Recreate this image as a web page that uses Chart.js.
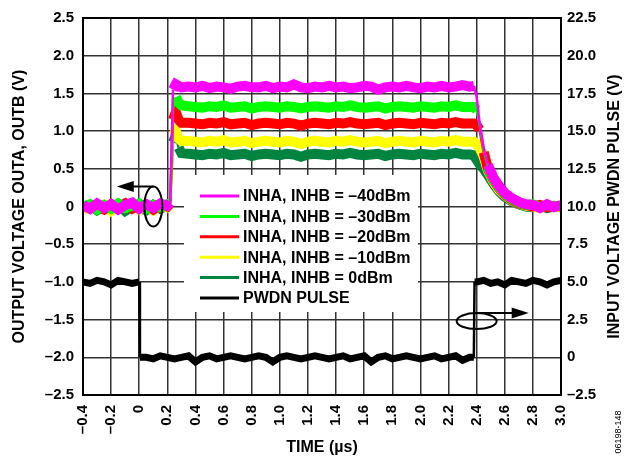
<!DOCTYPE html>
<html>
<head>
<meta charset="utf-8">
<script src="https://cdn.jsdelivr.net/npm/chart.js@4.4.0/dist/chart.umd.min.js"></script>
<style>
  html, body { margin: 0; padding: 0; background: #fff; }
</style>
</head>
<body>
<canvas id="chart" width="635" height="461"></canvas>
<script>
// thoi gian (us) cho cac duong OUTA/OUTB
const tOut = [
  -0.4, -0.35, -0.3, -0.25, -0.2, -0.15, -0.1, -0.05, 0, 0.05, 0.1, 0.15, 0.2,
  0.22, 0.24, 0.26, 0.28, 0.3,
  0.35, 0.4, 0.45, 0.5, 0.55, 0.6, 0.65, 0.7, 0.75, 0.8,
  0.85, 0.9, 0.95, 1.0, 1.05, 1.1, 1.15, 1.2, 1.25, 1.3,
  1.35, 1.4, 1.45, 1.5, 1.55, 1.6, 1.65, 1.7, 1.75, 1.8,
  1.85, 1.9, 1.95, 2.0, 2.05, 2.1, 2.15, 2.2, 2.25, 2.3,
  2.35,
  2.38, 2.4, 2.42, 2.45, 2.48, 2.52, 2.56, 2.6, 2.65, 2.7, 2.75, 2.8, 2.85, 2.9, 2.95, 3.0
];

const out40 = [
  0.02, -0.03, 0.04, -0.02, 0.03, -0.04, 0.02, 0.05, -0.03, 0.03, -0.02, 0.04, 0.01,
  0.05, 1.55, 1.62, 1.60, 1.58,
  1.59, 1.58, 1.60, 1.57, 1.59, 1.58, 1.56, 1.59, 1.60, 1.58,
  1.58, 1.60, 1.57, 1.59, 1.58, 1.62, 1.58, 1.57, 1.59, 1.58,
  1.60, 1.58, 1.59, 1.57, 1.58, 1.60, 1.59, 1.55, 1.58, 1.59,
  1.58, 1.60, 1.58, 1.57, 1.59, 1.58, 1.60, 1.58, 1.59, 1.61,
  1.59,
  1.60, 1.45, 1.12, 0.78, 0.55, 0.38, 0.27, 0.18, 0.11, 0.06, 0.03, 0.02, -0.02, 0.03, -0.01, 0.02
];
const out30 = [
  0.00, 0.03, -0.04, 0.02, -0.03, 0.04, -0.02, 0.01, 0.04, -0.03, 0.02, -0.01, 0.03,
  0.04, 1.30, 1.45, 1.38, 1.34,
  1.33, 1.32, 1.31, 1.33, 1.32, 1.34, 1.31, 1.32, 1.33, 1.30,
  1.32, 1.33, 1.32, 1.31, 1.33, 1.32, 1.30, 1.32, 1.33, 1.32,
  1.31, 1.33, 1.32, 1.34, 1.32, 1.31, 1.32, 1.33, 1.30, 1.32,
  1.33, 1.32, 1.31, 1.33, 1.32, 1.31, 1.33, 1.32, 1.34, 1.32,
  1.32,
  1.32, 1.28, 1.10, 0.75, 0.52, 0.36, 0.25, 0.17, 0.10, 0.05, 0.02, 0.03, -0.01, 0.02, 0.00, 0.01
];
const out20 = [
  -0.02, 0.02, 0.00, -0.04, 0.03, -0.01, 0.04, -0.03, 0.01, 0.02, -0.04, 0.02, 0.00,
  0.04, 1.15, 1.25, 1.15, 1.11,
  1.11, 1.10, 1.09, 1.11, 1.10, 1.12, 1.09, 1.10, 1.11, 1.08,
  1.10, 1.11, 1.10, 1.09, 1.11, 1.10, 1.07, 1.10, 1.11, 1.10,
  1.09, 1.11, 1.10, 1.12, 1.10, 1.09, 1.10, 1.11, 1.08, 1.10,
  1.11, 1.10, 1.09, 1.11, 1.10, 1.09, 1.11, 1.10, 1.12, 1.10,
  1.10,
  1.10, 1.08, 1.02, 0.72, 0.50, 0.35, 0.24, 0.16, 0.09, 0.04, 0.02, 0.00, 0.02, -0.01, 0.01, 0.00
];
const out10 = [
  -0.05, 0.01, -0.03, 0.02, -0.06, 0.00, -0.02, 0.03, -0.04, 0.01, -0.05, 0.02, -0.01,
  0.03, 0.95, 1.00, 0.90, 0.87,
  0.87, 0.86, 0.85, 0.87, 0.86, 0.88, 0.85, 0.86, 0.87, 0.84,
  0.86, 0.87, 0.86, 0.85, 0.87, 0.86, 0.83, 0.86, 0.87, 0.86,
  0.85, 0.87, 0.86, 0.88, 0.86, 0.85, 0.86, 0.87, 0.84, 0.86,
  0.87, 0.86, 0.85, 0.87, 0.86, 0.85, 0.87, 0.86, 0.88, 0.86,
  0.86,
  0.86, 0.82, 0.78, 0.66, 0.48, 0.33, 0.22, 0.15, 0.08, 0.04, 0.01, 0.00, -0.02, 0.01, 0.00, -0.01
];
const out0 = [
  -0.04, 0.02, -0.05, 0.01, -0.03, 0.03, -0.06, 0.00, -0.02, -0.05, 0.02, -0.03, 0.01,
  0.03, 0.85, 0.94, 0.78, 0.71,
  0.70, 0.69, 0.68, 0.70, 0.69, 0.71, 0.68, 0.69, 0.70, 0.67,
  0.69, 0.70, 0.69, 0.68, 0.70, 0.69, 0.66, 0.69, 0.70, 0.69,
  0.68, 0.70, 0.69, 0.71, 0.69, 0.68, 0.69, 0.70, 0.67, 0.69,
  0.70, 0.69, 0.68, 0.70, 0.69, 0.68, 0.70, 0.69, 0.71, 0.69,
  0.69,
  0.68, 0.62, 0.56, 0.50, 0.42, 0.30, 0.20, 0.13, 0.07, 0.03, 0.00, -0.01, 0.01, -0.02, 0.00, -0.01
];

// xung PWDN (truc phai)
const tPwdn = [
  -0.4, -0.35, -0.3, -0.25, -0.2, -0.15, -0.1, -0.05,
  0, 0.005,
  0.05, 0.1, 0.15, 0.2, 0.25, 0.3, 0.35, 0.4, 0.45, 0.5,
  0.55, 0.6, 0.65, 0.7, 0.75, 0.8, 0.85, 0.9, 0.95, 1.0,
  1.05, 1.1, 1.15, 1.2, 1.25, 1.3, 1.35, 1.4, 1.45, 1.5,
  1.55, 1.6, 1.65, 1.7, 1.75, 1.8, 1.85, 1.9, 1.95, 2.0,
  2.05, 2.1, 2.15, 2.2, 2.25, 2.3, 2.35,
  2.38, 2.385,
  2.4, 2.45, 2.5, 2.55, 2.6, 2.65, 2.7, 2.75, 2.8, 2.85, 2.9, 2.95, 3.0
];
const pwdn = [
  5.0, 4.9, 5.1, 5.0, 4.8, 5.1, 5.0, 4.9,
  5.0, 0.0,
  0.0, -0.1, 0.1, 0.0, -0.1, 0.0, 0.1, -0.3, 0.0, 0.1,
  -0.1, 0.0, 0.1, 0.0, -0.1, 0.0, 0.1, 0.0, -0.3, 0.0,
  0.1, 0.0, -0.1, 0.0, 0.1, 0.0, -0.1, 0.0, 0.1, -0.1,
  0.0, 0.1, -0.3, 0.0, 0.1, -0.1, 0.0, 0.1, 0.0, -0.1,
  0.0, 0.1, -0.1, 0.0, 0.1, -0.2, 0.0,
  0.0, 5.0,
  5.0, 5.1, 4.9, 5.0, 4.8, 5.1, 5.0, 4.9, 5.1, 5.0, 4.8, 5.0, 5.1
];

const seriesLabels = ['INHA, INHB = \u201340dBm', 'INHA, INHB = \u201330dBm', 'INHA, INHB = \u201320dBm',
                      'INHA, INHB = \u201310dBm', 'INHA, INHB = 0dBm', 'PWDN PULSE'];
const seriesColors = ['#FF00FF', '#00FF00', '#FF0000', '#FFFF00', '#00843F', '#000000'];

const FONT = '"Liberation Sans", Arial, sans-serif';

function fmt(v, digits) {
    const r = Math.round(v * 100) / 100;
    if (r === 0) return '0';
    const s = Math.abs(r).toFixed(digits);
    return r < 0 ? '\u2013' + s : s;
}

function pts(xs, ys) {
    return xs.map((x, i) => ({ x: x, y: ys[i] }));
}

// net mong o canh dung
function steepWidth(base) {
    return ctx => {
        const dx = Math.abs(ctx.p1.x - ctx.p0.x);
        const dy = Math.abs(ctx.p1.y - ctx.p0.y);
        return dy > dx * 4 ? 2.5 : base;
    };
}

function outDataset(i, values) {
    return {
        label: seriesLabels[i],
        data: pts(tOut, values),
        borderColor: seriesColors[i],
        borderWidth: 10,
        segment: { borderWidth: steepWidth(10) },
        pointRadius: 0,
        yAxisID: 'y'
    };
}

// ve chu thich, vien, mui ten
const extras = {
    id: 'extras',
    beforeDatasetsDraw(chart) {
        const c = chart.ctx;
        c.save();
        c.fillStyle = '#fff';
        c.fillRect(184, 175, 234, 137);
        c.restore();
    },
    afterDraw(chart) {
        const c = chart.ctx;
        const a = chart.chartArea;
        const xs = chart.scales.x, ys = chart.scales.y, y1 = chart.scales.y1;
        c.save();
        c.strokeStyle = '#000';
        c.lineWidth = 2;
        c.strokeRect(a.left, a.top, a.right - a.left, a.bottom - a.top);

        // legend
        chart.data.datasets.forEach((ds, i) => {
            const y = 196 + i * 20.4;
            c.strokeStyle = ds.borderColor;
            c.lineWidth = 3;
            c.beginPath();
            c.moveTo(200, y);
            c.lineTo(239, y);
            c.stroke();
            c.fillStyle = '#000';
            c.font = 'bold 16px ' + FONT;
            c.textBaseline = 'middle';
            c.textAlign = 'left';
            c.fillText(ds.label, 243, y + 1);
        });

        // ellipse + arrow
        function marker(cx, cy, rx, ry, tipX) {
            c.strokeStyle = '#000';
            c.fillStyle = '#000';
            c.lineWidth = 2;
            c.beginPath();
            c.ellipse(cx, cy, rx, ry, 0, 0, Math.PI * 2);
            c.stroke();
            const ly = cy - ry;
            const dir = tipX < cx ? -1 : 1;
            c.beginPath();
            c.moveTo(cx, ly);
            c.lineTo(tipX - dir * 16, ly);
            c.stroke();
            c.beginPath();
            c.moveTo(tipX, ly);
            c.lineTo(tipX - dir * 17, ly - 5.5);
            c.lineTo(tipX - dir * 17, ly + 5.5);
            c.closePath();
            c.fill();
        }
        marker(xs.getPixelForValue(0.1), ys.getPixelForValue(0), 9, 20, xs.getPixelForValue(-0.16));
        marker(xs.getPixelForValue(2.4), y1.getPixelForValue(2.4), 20, 8, xs.getPixelForValue(2.77));

        // tieu de truc phai (doc tu duoi len)
        c.save();
        c.translate(615, (a.top + a.bottom) / 2);
        c.rotate(-Math.PI / 2);
        c.font = 'bold 16px ' + FONT;
        c.fillStyle = '#000';
        c.textAlign = 'center';
        c.textBaseline = 'middle';
        c.fillText('INPUT VOLTAGE PWDN PULSE (V)', 0, 0);
        c.restore();

        // ma hinh
        c.translate(619, 432);
        c.rotate(-Math.PI / 2);
        c.font = '9px ' + FONT;
        c.fillStyle = '#000';
        c.textAlign = 'center';
        c.textBaseline = 'middle';
        c.fillText('06198-148', 0, 0);
        c.restore();
    }
};

const tickFont = { family: FONT, size: 15, weight: 'bold' };
const titleFont = { family: FONT, size: 16, weight: 'bold' };
const gridStyle = { color: '#333', lineWidth: 1.5, drawTicks: false };

new Chart(document.getElementById('chart'), {
    type: 'line',
    data: {
        datasets: [
            outDataset(0, out40),
            outDataset(1, out30),
            outDataset(2, out20),
            outDataset(3, out10),
            outDataset(4, out0),
            {
                label: seriesLabels[5],
                data: pts(tPwdn, pwdn),
                borderColor: seriesColors[5],
                borderWidth: 7,
                segment: { borderWidth: steepWidth(7) },
                pointRadius: 0,
                yAxisID: 'y1'
            }
        ]
    },
    options: {
        responsive: false,
        animation: false,
        layout: { padding: { top: 13 } },
        plugins: {
            legend: { display: false },
            tooltip: { enabled: false }
        },
        scales: {
            x: {
                type: 'linear',
                min: -0.4,
                max: 3.0,
                grid: gridStyle,
                border: { color: '#000', width: 2 },
                ticks: {
                    stepSize: 0.2,
                    autoSkip: false,
                    minRotation: 90,
                    maxRotation: 90,
                    padding: 10,
                    color: '#000',
                    font: tickFont,
                    callback: v => fmt(v, 1)
                },
                title: {
                    display: true,
                    text: 'TIME (\u00b5s)',
                    color: '#000',
                    font: titleFont,
                    padding: { top: 0, bottom: 4 }
                },
                afterFit: s => { s.height = 66; }
            },
            y: {
                position: 'left',
                min: -2.5,
                max: 2.5,
                grid: gridStyle,
                border: { color: '#000', width: 2 },
                ticks: {
                    stepSize: 0.5,
                    padding: 9,
                    color: '#000',
                    font: tickFont,
                    callback: v => fmt(v, 1)
                },
                title: {
                    display: true,
                    text: 'OUTPUT VOLTAGE OUTA, OUTB (V)',
                    color: '#000',
                    font: titleFont,
                    padding: { top: 10, bottom: 0 }
                },
                afterFit: s => { s.width = 83; }
            },
            y1: {
                position: 'right',
                min: -2.5,
                max: 22.5,
                grid: { drawOnChartArea: false, drawTicks: false },
                border: { color: '#000', width: 2 },
                ticks: {
                    stepSize: 2.5,
                    padding: 6,
                    color: '#000',
                    font: tickFont,
                    callback: v => fmt(v, 1)
                },
                afterFit: s => { s.width = 74; }
            }
        }
    },
    plugins: [extras]
});
</script>
</body>
</html>
